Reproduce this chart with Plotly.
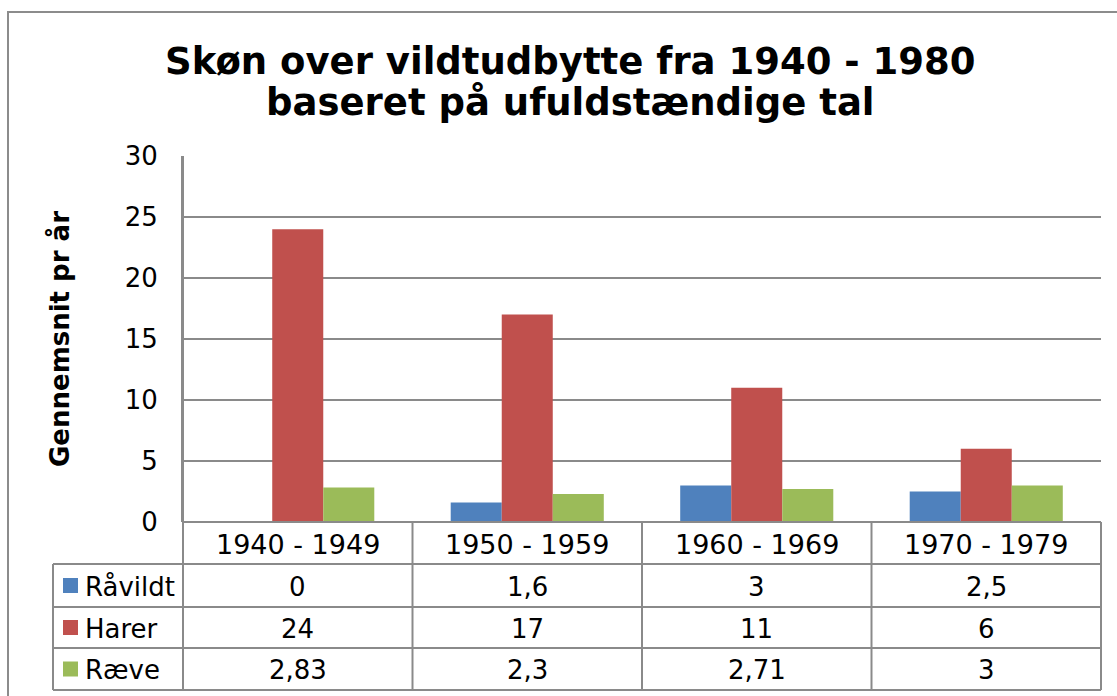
import plotly.graph_objects as go

categories = ["1940 - 1949", "1950 - 1959", "1960 - 1969", "1970 - 1979"]
series_names = ["Råvildt", "Harer", "Ræve"]
raavildt = [0, 1.6, 3, 2.5]
harer = [24, 17, 11, 6]
raeve = [2.83, 2.3, 2.71, 3]
series_values = [raavildt, harer, raeve]
colors = ["#4F81BD", "#C0504D", "#9BBB59"]

title_lines = ["Skøn over vildtudbytte fra 1940 - 1980", "baseret på ufuldstændige tal"]
y_title = "Gennemsnit pr år"
y_ticks = [0, 5, 10, 15, 20, 25, 30]

W, H = 1117, 696
L, R, T, B = 183, 1101, 156, 522
pw, ph = R - L, B - T

def px(X):
    return (X - L) / pw

def py(Y):
    return (B - Y) / ph

FONT = "DejaVu Sans"
GRID = "#8a8a8a"

fig = go.Figure()
for name, vals, col in zip(series_names, series_values, colors):
    fig.add_trace(go.Bar(x=categories, y=vals, name=name, marker_color=col,
                         marker_line_width=0, showlegend=False))

# table geometry (pixel rows)
row_edges = [522, 564, 607, 648, 690]
left_col = 53

shapes = []
line = dict(color=GRID, width=2)
# outer chart border
shapes.append(dict(type="rect", xref="paper", yref="paper", x0=px(8), x1=px(1130),
                   y0=py(12), y1=py(720), line=dict(color="#8c8c8c", width=2), layer="below"))
# horizontal table lines
shapes.append(dict(type="line", xref="paper", yref="paper", x0=0, x1=1, y0=py(522), y1=py(522), line=line))
for yy in row_edges[1:]:
    shapes.append(dict(type="line", xref="paper", yref="paper", x0=px(left_col), x1=1,
                       y0=py(yy), y1=py(yy), line=line))
# vertical table lines
shapes.append(dict(type="line", xref="paper", yref="paper", x0=px(left_col), x1=px(left_col),
                   y0=py(564), y1=py(690), line=line))
shapes.append(dict(type="line", xref="paper", yref="paper", x0=0, x1=0,
                   y0=py(T), y1=py(690), line=line))
for i in range(1, len(categories) + 1):
    xx = i / len(categories)
    shapes.append(dict(type="line", xref="paper", yref="paper", x0=xx, x1=xx,
                       y0=py(522), y1=py(690), line=line))

annotations = []
# title (two lines)
for txt, yc in zip(title_lines, [62, 102]):
    annotations.append(dict(text="<b>" + txt + "</b>",
                            xref="paper", yref="paper", x=px(570), y=py(yc), xanchor="center",
                            yanchor="middle", showarrow=False,
                            font=dict(family=FONT, size=37, color="black")))
# y axis title
annotations.append(dict(text="<b>" + y_title + "</b>", xref="paper", yref="paper",
                        x=px(59), y=py(339), textangle=-90, showarrow=False,
                        xanchor="center", yanchor="middle",
                        font=dict(family=FONT, size=26, color="black")))
# category row
for c in categories:
    annotations.append(dict(text=c, xref="x", yref="paper", x=c,
                            y=py((row_edges[0] + row_edges[1]) / 2 + 1), showarrow=False,
                            xanchor="center", yanchor="middle",
                            font=dict(family=FONT, size=27, color="black")))
# series rows
for r, (name, vals, col) in enumerate(zip(series_names, series_values, colors)):
    yc = (row_edges[r + 1] + row_edges[r + 2]) / 2
    shapes.append(dict(type="rect", xref="paper", yref="paper", x0=px(63), x1=px(78),
                       y0=py(yc - 7.5), y1=py(yc + 7.5), fillcolor=col, line=dict(width=0)))
    annotations.append(dict(text=name, xref="paper", yref="paper", x=px(83), y=py(yc + 1),
                            xanchor="left", yanchor="middle", showarrow=False,
                            font=dict(family=FONT, size=26, color="black")))
    for c, v in zip(categories, vals):
        annotations.append(dict(text=f"{v:g}".replace(".", ","), xref="x", yref="paper", x=c,
                                y=py(yc + 1), xanchor="center", yanchor="middle", showarrow=False,
                                font=dict(family=FONT, size=26, color="black")))

fig.update_layout(
    width=W, height=H,
    margin=dict(l=L, r=W - R, t=T, b=H - B),
    paper_bgcolor="white", plot_bgcolor="white",
    barmode="group", bargap=0.333, bargroupgap=0,
    shapes=shapes, annotations=annotations,
    xaxis=dict(type="category", range=[-0.5, 3.5], showticklabels=False, showgrid=False,
               zeroline=False, showline=False, ticks=""),
    yaxis=dict(range=[0, 30], tickvals=y_ticks, showgrid=True, gridcolor=GRID, gridwidth=1.5,
               zeroline=False, showline=True, linecolor=GRID, linewidth=2, ticks="",
               ticklabelstandoff=18, tickfont=dict(family=FONT, size=26, color="black")),
)

fig.write_html("out.html", config={"displayModeBar": False},
               post_script="document.body.style.margin='0px';")
